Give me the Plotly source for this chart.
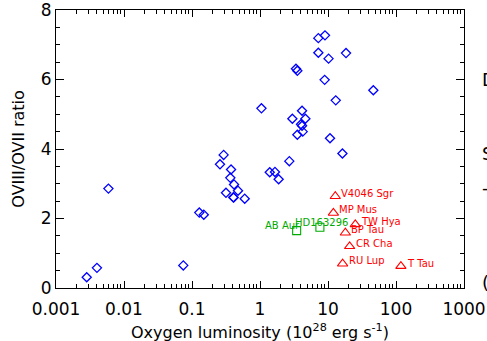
import numpy as np
import plotly.graph_objects as go

# Blue diamonds (field stars)
star_lum = [0.00283, 0.0040, 0.0059, 0.0745, 0.128, 0.149, 0.258, 0.292, 0.375, 0.366,
            0.415, 0.316, 0.405, 0.41, 0.475, 0.596, 1.05, 1.39, 1.66, 1.88, 2.70, 2.99,
            4.15, 4.65, 4.01, 4.15, 3.54, 4.25, 3.38, 3.54, 7.21, 9.03, 7.21, 10.2, 18.4,
            8.93, 46.4, 13.0, 10.7, 16.3]
star_ratio = [0.31, 0.58, 2.86, 0.65, 2.17, 2.11, 3.56, 3.83, 3.41, 3.17,
              2.98, 2.74, 2.61, 2.60, 2.80, 2.57, 5.17, 3.33, 3.34, 3.13, 3.65, 4.87,
              5.10, 4.87, 4.71, 4.67, 4.41, 4.50, 6.31, 6.25, 7.19, 7.27, 6.77, 6.60, 6.76,
              5.99, 5.69, 5.40, 4.31, 3.87]

# Red triangles (CTTS)
ctts_names = ["V4046 Sgr", "MP Mus", "TW Hya", "BP Tau", "CR Cha", "RU Lup", "T Tau"]
ctts_lum = [12.8, 12.0, 25.2, 18.0, 20.8, 16.4, 118]
ctts_ratio = [2.64, 2.16, 1.83, 1.59, 1.20, 0.70, 0.63]

# Green squares (Herbig stars)
haebe_names = ["AB Aur", "HD163296"]
haebe_lum = [3.46, 7.6]
haebe_ratio = [1.65, 1.75]

x_ticks = [0.001, 0.01, 0.1, 1, 10, 100, 1000]
x_ticklabels = ["0.001", "0.01", "0.1", "1", "10", "100", "1000"]
y_ticks = [0, 2, 4, 6, 8]

x_title = "Oxygen luminosity (10<sup>28</sup> erg s<sup>-1</sup>)"
y_title = "OVIII/OVII ratio"

BLUE = "#0000ff"
RED = "#ff0000"
GREEN = "#00aa00"
FONT = "DejaVu Sans"

fig = go.Figure()
fig.add_trace(go.Scatter(x=star_lum, y=star_ratio, mode="markers",
                         marker=dict(symbol="diamond-open", size=7, color=BLUE,
                                     line=dict(width=1.3, color=BLUE)),
                         showlegend=False, cliponaxis=False))
fig.add_trace(go.Scatter(x=ctts_lum, y=ctts_ratio, mode="markers",
                         marker=dict(symbol="triangle-up-open", size=9, color=RED,
                                     line=dict(width=1.1, color=RED)),
                         showlegend=False))
fig.add_trace(go.Scatter(x=haebe_lum, y=haebe_ratio, mode="markers",
                         marker=dict(symbol="square-open", size=8, color=GREEN,
                                     line=dict(width=1.1, color=GREEN)),
                         showlegend=False))

for n, xv, yv in zip(ctts_names, ctts_lum, ctts_ratio):
    fig.add_annotation(x=np.log10(xv), y=yv, text=n, showarrow=False,
                       xanchor="left", yanchor="middle", xshift=4, yshift=3,
                       font=dict(family=FONT, size=10, color=RED))

fig.add_annotation(x=np.log10(haebe_lum[0]), y=haebe_ratio[0], text=haebe_names[0],
                   showarrow=False, xanchor="right", yanchor="middle", xshift=5, yshift=5,
                   font=dict(family=FONT, size=10, color=GREEN))
fig.add_annotation(x=np.log10(haebe_lum[1]), y=haebe_ratio[1], text=haebe_names[1],
                   showarrow=False, xanchor="left", yanchor="middle", xshift=-27, yshift=5,
                   font=dict(family=FONT, size=10, color=GREEN))

# axis titles
fig.add_annotation(xref="paper", yref="paper", x=0.5, y=-0.155, text=x_title,
                   showarrow=False, xanchor="center", yanchor="middle",
                   font=dict(family=FONT, size=16, color="black"))
fig.add_annotation(xref="paper", yref="paper", x=-0.094, y=0.5, text=y_title,
                   showarrow=False, xanchor="center", yanchor="middle", textangle=-90,
                   font=dict(family=FONT, size=16, color="black"))

# cut-off text of neighbouring panel
for t, yv in [("D", 5.99), ("S", 3.86), ("-", 2.88), ("(", 0.17)]:
    fig.add_annotation(xref="paper", x=1.04, y=yv, text=t, showarrow=False,
                       xanchor="left", yanchor="middle",
                       font=dict(family=FONT, size=18, color="black"))

fig.update_xaxes(type="log", range=[-3, 3], tickvals=x_ticks, ticktext=x_ticklabels,
                 ticks="inside", ticklen=7, tickcolor="black", mirror="allticks",
                 showline=True, linecolor="black", linewidth=1, showgrid=False, zeroline=False,
                 automargin=False, ticklabelstandoff=6, ticklabeloverflow="allow",
                 minor=dict(ticks="inside", ticklen=4, tickcolor="black", dtick="D1", showgrid=False),
                 tickfont=dict(family=FONT, size=17, color="black"))
fig.update_yaxes(range=[0, 8], tickvals=y_ticks,
                 ticks="inside", ticklen=8, tickcolor="black", mirror="allticks",
                 showline=True, linecolor="black", linewidth=1, showgrid=False, zeroline=False,
                 automargin=False, ticklabeloverflow="allow",
                 minor=dict(ticks="inside", ticklen=4, tickcolor="black", dtick=0.5, showgrid=False),
                 tickfont=dict(family=FONT, size=17, color="black"))

fig.update_layout(width=487, height=341, margin=dict(l=56, r=23, t=10, b=53, autoexpand=False),
                  plot_bgcolor="white", paper_bgcolor="white", showlegend=False)

fig.write_html("out.html", config={"displayModeBar": False},
               post_script="document.body.style.margin='0';document.body.style.overflow='hidden';")
